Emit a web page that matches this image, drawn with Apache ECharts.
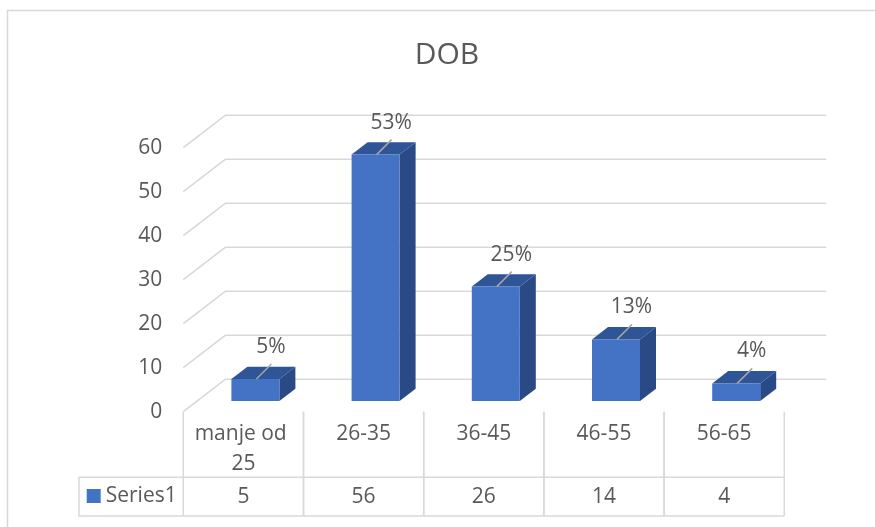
<!DOCTYPE html>
<html><head><meta charset="utf-8">
<script src="https://cdn.jsdelivr.net/npm/echarts@6/dist/echarts.min.js"></script>
<style>html,body{margin:0;padding:0;background:#fff}#c{width:875px;height:527px}</style>
</head><body><div id="c"></div>
<script>
// ---- data ----
const titleText = 'DOB';
const seriesName = 'Series1';
const categories = ['manje od 25', '26-35', '36-45', '46-55', '56-65'];
const values = [5, 56, 26, 14, 4];
const yTicks = [0, 10, 20, 30, 40, 50, 60];

// ---- style / layout ----
const FONT = '"Open Sans", sans-serif';
const FS = 21;
const TXT = '#595959';
const GRIDC = '#D9D9D9';
const FRONT = '#4472C4', TOPC = '#2F5597', SIDEC = '#2A4A86';
const DEPTH_X = 42, DEPTH_Y = -32.4;
const BAR_DX = 12, BAR_DY = -10.7, BAR_W = 48, SIDE_X = 16, SIDE_Y = -12.3;
const TABLE_TOP = 411.7, ROW_Y = 477.3, TABLE_BOTTOM = 516, TABLE_LEFT = 79;
const GRID_L = 183.3, GRID_R = 784.3, GRID_T = 147.7;

const total = values.reduce((a, b) => a + b, 0);
const pctLabels = values.map(v => Math.round(v / total * 100) + '%');

const chart = echarts.init(document.getElementById('c'));
chart.setOption({
  animation: false,
  backgroundColor: '#fff',
  title: {
    text: titleText, left: 442, top: 35, textAlign: 'center',
    textStyle: { fontSize: 30, fontWeight: 'normal', color: TXT, fontFamily: FONT }
  },
  legend: {
    data: [seriesName], left: 86.7, top: 484, padding: 0,
    itemWidth: 14, itemHeight: 14, icon: 'rect', itemGap: 4,
    textStyle: { fontSize: FS, color: TXT, fontFamily: FONT, lineHeight: 24 }
  },
  grid: { left: GRID_L, right: 875 - GRID_R, top: GRID_T, bottom: 527 - TABLE_TOP },
  xAxis: {
    type: 'category', data: categories,
    axisLine: { show: false }, axisTick: { show: false },
    axisLabel: {
      interval: 0, fontSize: FS, color: TXT, fontFamily: FONT,
      width: 112, overflow: 'break', lineHeight: 30, margin: 7
    }
  },
  yAxis: {
    type: 'value', min: 0, max: 60, interval: 10,
    axisLine: { show: false }, axisTick: { show: false }, splitLine: { show: false },
    axisLabel: { fontSize: FS, color: TXT, fontFamily: FONT, margin: 21 }
  },
  graphic: [
    { type: 'rect', shape: { x: 7.5, y: 10.5, width: 1000, height: 700 }, style: { fill: 'none', stroke: GRIDC, lineWidth: 1.5 }, silent: true },
    { type: 'polyline', shape: { points: [[GRID_L, ROW_Y], [TABLE_LEFT, ROW_Y], [TABLE_LEFT, TABLE_BOTTOM], [GRID_L, TABLE_BOTTOM]] }, style: { fill: 'none', stroke: GRIDC, lineWidth: 1.5 }, silent: true }
  ],
  series: [
    {
      name: 'grid', type: 'custom', silent: true, clip: false, z: 1,
      data: yTicks.map(v => [0, v]),
      encode: { x: 0, y: 1 },
      renderItem(params, api) {
        const y = api.coord([0, api.value(1)])[1];
        const cs = params.coordSys;
        const xl = cs.x, xr = cs.x + cs.width;
        return {
          type: 'polyline',
          shape: { points: [[xl, y], [xl + DEPTH_X, y + DEPTH_Y], [xr + DEPTH_X, y + DEPTH_Y]] },
          style: { fill: 'none', stroke: GRIDC, lineWidth: 1.5 }
        };
      }
    },
    {
      name: seriesName, type: 'custom', clip: false, z: 3,
      itemStyle: { color: FRONT },
      data: values.map((v, i) => [i, v]),
      encode: { x: 0, y: 1 },
      renderItem(params, api) {
        const i = api.value(0), v = api.value(1);
        const base = api.coord([i, 0]);
        const h = api.size([0, v])[1];
        const cx = base[0] + BAR_DX, by = base[1] + BAR_DY, ty = by - h;
        const x0 = cx - BAR_W / 2, x1 = cx + BAR_W / 2;
        return {
          type: 'group', children: [
            { type: 'polygon', shape: { points: [[x1, by], [x1, ty], [x1 + SIDE_X, ty + SIDE_Y], [x1 + SIDE_X, by + SIDE_Y]] }, style: { fill: SIDEC } },
            { type: 'polygon', shape: { points: [[x0, ty], [x1, ty], [x1 + SIDE_X, ty + SIDE_Y], [x0 + SIDE_X, ty + SIDE_Y]] }, style: { fill: TOPC } },
            { type: 'rect', shape: { x: x0, y: ty, width: BAR_W, height: h }, style: { fill: FRONT } },
            { type: 'line', shape: { x1: cx + 1, y1: ty, x2: cx + 16, y2: ty - 15 }, style: { stroke: '#A6A6A6', lineWidth: 1.5 } },
            { type: 'text', style: { x: cx + 15.5, y: ty - 32, text: pctLabels[i], fill: TXT, fontSize: FS, fontFamily: FONT, align: 'center', verticalAlign: 'middle' } }
          ]
        };
      }
    },
    {
      name: 'table', type: 'custom', silent: true, clip: false, z: 2,
      data: values.map((v, i) => [i, v]),
      encode: { x: 0, y: 1 },
      renderItem(params, api) {
        const i = api.value(0);
        const cx = api.coord([i, 0])[0];
        const band = api.size([1, 0])[0];
        const l = cx - band / 2, r = cx + band / 2;
        const st = { stroke: GRIDC, lineWidth: 1.5 };
        return {
          type: 'group', children: [
            { type: 'line', shape: { x1: l, y1: TABLE_TOP, x2: l, y2: TABLE_BOTTOM }, style: st },
            { type: 'line', shape: { x1: r, y1: TABLE_TOP, x2: r, y2: TABLE_BOTTOM }, style: st },
            { type: 'line', shape: { x1: l, y1: ROW_Y, x2: r, y2: ROW_Y }, style: st },
            { type: 'line', shape: { x1: l, y1: TABLE_BOTTOM, x2: r, y2: TABLE_BOTTOM }, style: st },
            { type: 'text', style: { x: cx, y: (ROW_Y + TABLE_BOTTOM) / 2, text: String(api.value(1)), fill: TXT, fontSize: FS, fontFamily: FONT, align: 'center', verticalAlign: 'middle' } }
          ]
        };
      }
    }
  ]
});
</script></body></html>
